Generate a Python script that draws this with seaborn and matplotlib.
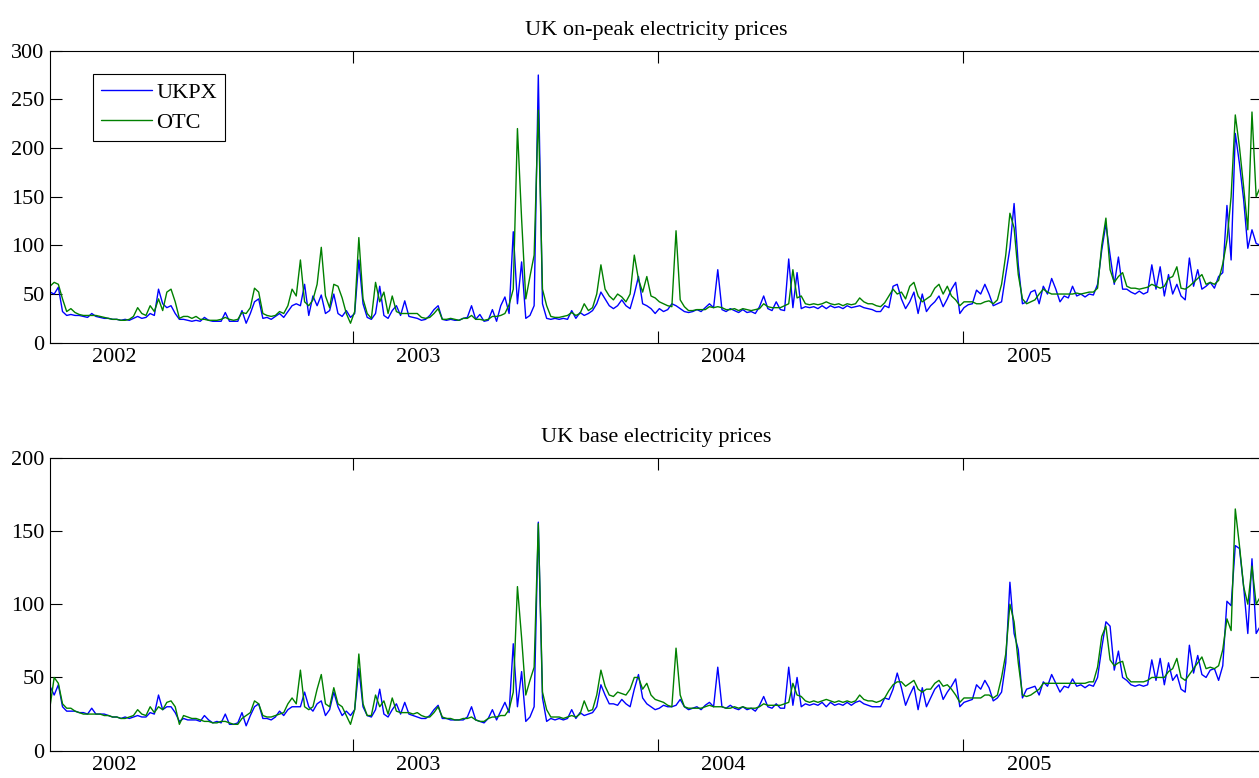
import numpy as np
import pandas as pd
import matplotlib
matplotlib.use("Agg")
import matplotlib.pyplot as plt
import matplotlib.dates as mdates
from matplotlib.ticker import NullFormatter, FixedLocator, FixedFormatter
from matplotlib.lines import Line2D
import seaborn as sns

# ---------------- data (one value every 5 days) ----------------
start_date = "2002-01-03"
step = "5D"
series_names = ["UKPX", "OTC"]
series_colors = ["#0000ff", "#008000"]
titles = ["UK on-peak electricity prices", "UK base electricity prices"]
year_labels = ["2002", "2003", "2004", "2005"]
year_label_dates = ["2002-03-21", "2003-03-20", "2004-03-20", "2005-03-21"]

peak_ukpx = [
    52, 50, 57, 32, 28, 29, 28, 28, 27, 26,
    30, 27, 26, 25, 25, 24, 24, 23, 24, 23,
    25, 27, 25, 26, 30, 28, 55, 40, 36, 38,
    30, 24, 24, 23, 22, 23, 22, 26, 23, 22,
    22, 22, 31, 22, 22, 22, 33, 20, 30, 42,
    45, 25, 26, 24, 27, 30, 26, 32, 38, 40,
    38, 60, 28, 48, 38, 49, 30, 33, 50, 30,
    27, 33, 26, 30, 85, 40, 26, 24, 30, 58,
    28, 25, 33, 38, 28, 43, 27, 26, 25, 23,
    24, 28, 34, 38, 24, 23, 24, 23, 23, 25,
    26, 38, 24, 29, 22, 23, 34, 22, 38, 47,
    30, 114, 40, 83, 25, 28, 38, 275, 40, 25,
    24, 25, 24, 25, 24, 33, 25, 31, 28, 30,
    33, 40, 52, 45, 38, 35, 38, 44, 38, 35,
    50, 68, 40, 38, 35, 30, 35, 32, 34, 40,
    38, 35, 32, 31, 32, 34, 32, 36, 40, 36,
    75, 34, 32, 35, 33, 31, 34, 31, 32, 30,
    37, 48, 35, 33, 42, 34, 33, 86, 36, 72,
    35, 37, 36, 37, 35, 38, 35, 38, 36, 37,
    35, 38, 36, 37, 38, 36, 35, 34, 32, 32,
    38, 36, 58, 60, 45, 35, 42, 52, 30, 50,
    32, 38, 42, 48, 37, 45, 55, 62, 30, 36,
    39, 40, 54, 50, 60, 50, 38, 40, 42, 70,
    97, 143, 80, 40, 42, 52, 54, 40, 58, 50,
    66, 55, 42, 48, 46, 58, 48, 50, 47, 50,
    49, 60, 95, 122, 90, 60, 88, 55, 55, 52,
    50, 53, 50, 52, 80, 55, 78, 48, 70, 50,
    60, 48, 44, 87, 58, 75, 55, 58, 62, 56,
    68, 72, 141, 85, 215, 184, 147, 97, 116, 102, 100,
]

peak_otc = [
    58, 62, 60, 45, 32, 35, 31, 29, 28, 28,
    28, 28, 27, 26, 25, 24, 24, 23, 23, 24,
    27, 36, 30, 28, 38, 32, 45, 33, 52, 55,
    42, 25, 27, 27, 25, 27, 24, 24, 23, 23,
    23, 24, 26, 24, 23, 24, 31, 30, 36, 56,
    52, 30, 28, 27, 28, 32, 30, 38, 55, 48,
    85, 42, 38, 44, 60, 98, 48, 36, 60, 58,
    46, 30, 20, 32, 108, 45, 30, 25, 62, 42,
    52, 30, 48, 32, 30, 30, 30, 30, 30, 26,
    25, 26, 30, 35, 24, 24, 25, 24, 23, 25,
    25, 28, 24, 24, 23, 24, 27, 27, 28, 30,
    39, 55, 220, 127, 45, 68, 90, 239, 55, 38,
    27, 26, 26, 27, 28, 31, 28, 30, 40, 33,
    36, 50, 80, 55, 48, 44, 50, 47, 42, 50,
    90, 65, 52, 68, 48, 46, 42, 40, 38, 37,
    115, 44, 37, 33, 33, 34, 34, 34, 37, 36,
    37, 36, 34, 34, 35, 33, 35, 34, 33, 34,
    35, 40, 37, 36, 36, 36, 38, 40, 75, 46,
    48, 40, 39, 40, 39, 40, 42, 40, 39, 40,
    38, 40, 39, 40, 46, 42, 40, 40, 38, 37,
    41, 48, 55, 50, 52, 45, 58, 62, 48, 42,
    45, 48, 56, 60, 50, 58, 48, 44, 38, 42,
    42, 42, 40, 40, 42, 43, 40, 44, 60, 90,
    133, 118, 70, 45, 40, 42, 44, 50, 55, 52,
    50, 50, 50, 50, 50, 50, 51, 50, 51, 52,
    52, 56, 100, 128, 75, 62, 68, 72, 58, 56,
    56, 55, 56, 57, 60, 58, 56, 58, 66, 68,
    78, 56, 55, 58, 62, 66, 70, 60, 62, 60,
    64, 81, 105, 150, 234, 201, 160, 116, 237, 150, 160,
]

base_ukpx = [
    44, 38, 45, 30, 27, 27, 27, 26, 26, 25,
    29, 25, 25, 25, 24, 23, 23, 22, 23, 22,
    23, 24, 23, 23, 26, 25, 38, 28, 30, 30,
    26, 20, 22, 21, 21, 21, 20, 24, 21, 19,
    20, 19, 25, 18, 18, 19, 26, 17, 24, 30,
    32, 22, 22, 21, 23, 27, 24, 28, 30, 30,
    30, 40, 30, 27, 32, 34, 24, 28, 40, 30,
    24, 27, 24, 28, 56, 30, 24, 23, 28, 42,
    25, 23, 28, 32, 25, 33, 25, 24, 23, 22,
    22, 24, 28, 31, 22, 22, 21, 21, 21, 21,
    23, 30, 21, 20, 19, 22, 28, 21, 27, 33,
    26, 73, 30, 54, 20, 23, 30, 156, 36, 20,
    22, 21, 22, 21, 22, 28, 22, 26, 24, 25,
    26, 30, 45, 38, 32, 32, 31, 35, 32, 30,
    42, 52, 36, 32, 30, 28, 29, 31, 30, 30,
    31, 35, 30, 28, 29, 30, 28, 31, 33, 30,
    57, 30, 29, 31, 29, 28, 30, 28, 29, 27,
    31, 37, 30, 29, 32, 29, 29, 57, 31, 50,
    30, 32, 31, 32, 31, 33, 30, 33, 31, 32,
    31, 33, 31, 33, 34, 32, 31, 30, 30, 30,
    36, 35, 42, 53, 43, 31, 38, 44, 28, 43,
    30, 36, 42, 45, 35, 40, 44, 49, 30, 33,
    34, 35, 45, 42, 48, 43, 34, 36, 40, 60,
    115, 80, 69, 36, 42, 43, 44, 38, 47, 44,
    52, 46, 40, 44, 43, 49, 44, 45, 43, 45,
    44, 50, 70, 88, 85, 55, 68, 50, 48, 45,
    44, 45, 44, 45, 62, 48, 63, 45, 60, 48,
    52, 42, 40, 72, 53, 65, 52, 50, 55, 56,
    48, 58, 102, 99, 140, 138, 112, 80, 131, 80, 85,
]

base_otc = [
    30, 50, 46, 32, 29, 29, 27, 26, 25, 25,
    25, 25, 25, 24, 24, 23, 23, 22, 22, 23,
    24, 28, 25, 24, 30, 26, 30, 28, 33, 34,
    30, 18, 24, 23, 22, 22, 21, 20, 20, 19,
    19, 20, 20, 19, 18, 18, 22, 24, 26, 34,
    32, 24, 23, 23, 24, 25, 26, 32, 36, 32,
    55, 30, 28, 30, 42, 52, 32, 30, 43, 32,
    30, 24, 18, 28, 66, 32, 24, 24, 38, 30,
    34, 25, 36, 27, 26, 26, 26, 25, 26, 24,
    23, 23, 26, 30, 23, 22, 22, 21, 21, 22,
    22, 23, 21, 20, 20, 22, 23, 23, 24, 24,
    28, 40, 112, 77, 38, 48, 57, 155, 40, 28,
    23, 23, 23, 22, 23, 24, 23, 25, 34, 27,
    28, 38, 55, 44, 38, 37, 40, 39, 38, 42,
    50, 50, 42, 46, 38, 35, 34, 33, 31, 30,
    70, 38, 30, 29, 29, 29, 29, 30, 31, 30,
    30, 30, 29, 29, 30, 29, 30, 29, 29, 29,
    30, 32, 31, 31, 31, 31, 32, 33, 46, 38,
    37, 34, 33, 34, 33, 34, 35, 34, 33, 34,
    33, 34, 33, 34, 38, 35, 34, 34, 33, 34,
    36, 41, 45, 47, 47, 44, 46, 48, 42, 40,
    42, 42, 46, 48, 44, 45, 42, 38, 33, 36,
    36, 36, 36, 36, 38, 38, 36, 38, 50, 66,
    100, 88, 60, 38, 37, 38, 40, 42, 46, 46,
    46, 46, 46, 46, 46, 46, 46, 46, 46, 47,
    47, 57, 78, 85, 62, 58, 60, 61, 50, 47,
    47, 47, 47, 48, 50, 50, 50, 50, 54, 56,
    63, 50, 48, 52, 56, 60, 64, 56, 57, 56,
    58, 69, 90, 82, 165, 140, 112, 100, 126, 100, 105,
]

panels = [
    (titles[0], peak_ukpx, peak_otc, 300),
    (titles[1], base_ukpx, base_otc, 200),
]

# ---------------- style ----------------
sns.set_theme(style="ticks")
plt.rcParams["font.family"] = ["Liberation Serif", "DejaVu Serif"]
plt.rcParams.update({
    "axes.edgecolor": "black",
    "xtick.color": "black",
    "ytick.color": "black",
    "text.color": "black",
    "axes.labelcolor": "black",
    "axes.linewidth": 0.8,
})
FS = 16

W, H = 1259, 778
fig = plt.figure(figsize=(W / 100, H / 100), dpi=100)
ax_left, ax_right = 50, 1262
rects = [(50.7, 342.7), (457.7, 750.7)]
axes = []
for top, bot in rects:
    axes.append(fig.add_axes([ax_left / W, 1 - bot / H, (ax_right - ax_left) / W, (bot - top) / H]))

for ax, (title, ukpx, otc, ymax) in zip(axes, panels):
    n = len(ukpx)
    dates = pd.date_range(start_date, periods=n, freq=step)
    df = pd.DataFrame({
        "date": np.concatenate([dates.values, dates.values]),
        "price": np.concatenate([ukpx, otc]).astype(float),
        "series": [series_names[0]] * n + [series_names[1]] * len(otc),
    })
    sns.lineplot(data=df, x="date", y="price", hue="series", hue_order=series_names,
                 palette=series_colors, linewidth=1.0, legend=False, errorbar=None,
                 sort=False, ax=ax)
    ax.set_xlim(pd.Timestamp("2002-01-03"), pd.Timestamp("2005-12-25"))
    ax.set_ylim(0, ymax)
    ax.set_yticks(np.arange(0, ymax + 1, 50))
    ax.set_xlabel("")
    ax.set_ylabel("")
    ax.xaxis.set_major_locator(mdates.YearLocator())
    ax.xaxis.set_major_formatter(NullFormatter())
    ax.xaxis.set_minor_locator(FixedLocator(mdates.date2num(pd.to_datetime(year_label_dates))))
    ax.xaxis.set_minor_formatter(FixedFormatter(year_labels))
    ax.tick_params(axis="x", which="major", direction="in", length=8.6, width=0.8,
                   top=True, bottom=True, labelbottom=False)
    ax.tick_params(axis="x", which="minor", length=0, labelsize=FS, pad=4,
                   top=False, bottom=True, labelbottom=True)
    ax.tick_params(axis="y", which="major", direction="in", length=8.6, width=0.8,
                   left=True, right=True, labelsize=FS, pad=4)
    for sp in ax.spines.values():
        sp.set_visible(True)
        sp.set_color("black")
        sp.set_linewidth(0.8)
    ax.set_title(title, fontsize=FS, pad=11)

handles = [Line2D([], [], color=c, lw=1.0) for c in series_colors]
leg = axes[0].legend(handles, series_names, loc="upper left",
                     bbox_to_anchor=(43 / 1212, 1 - 23.6 / 292), borderaxespad=0,
                     frameon=True, fancybox=False, edgecolor="black", framealpha=1,
                     handlelength=2.3, handletextpad=0.2, labelspacing=0.45,
                     borderpad=0.35, fontsize=FS)
leg.get_frame().set_linewidth(0.8)

fig.savefig("out.png", dpi=100)
